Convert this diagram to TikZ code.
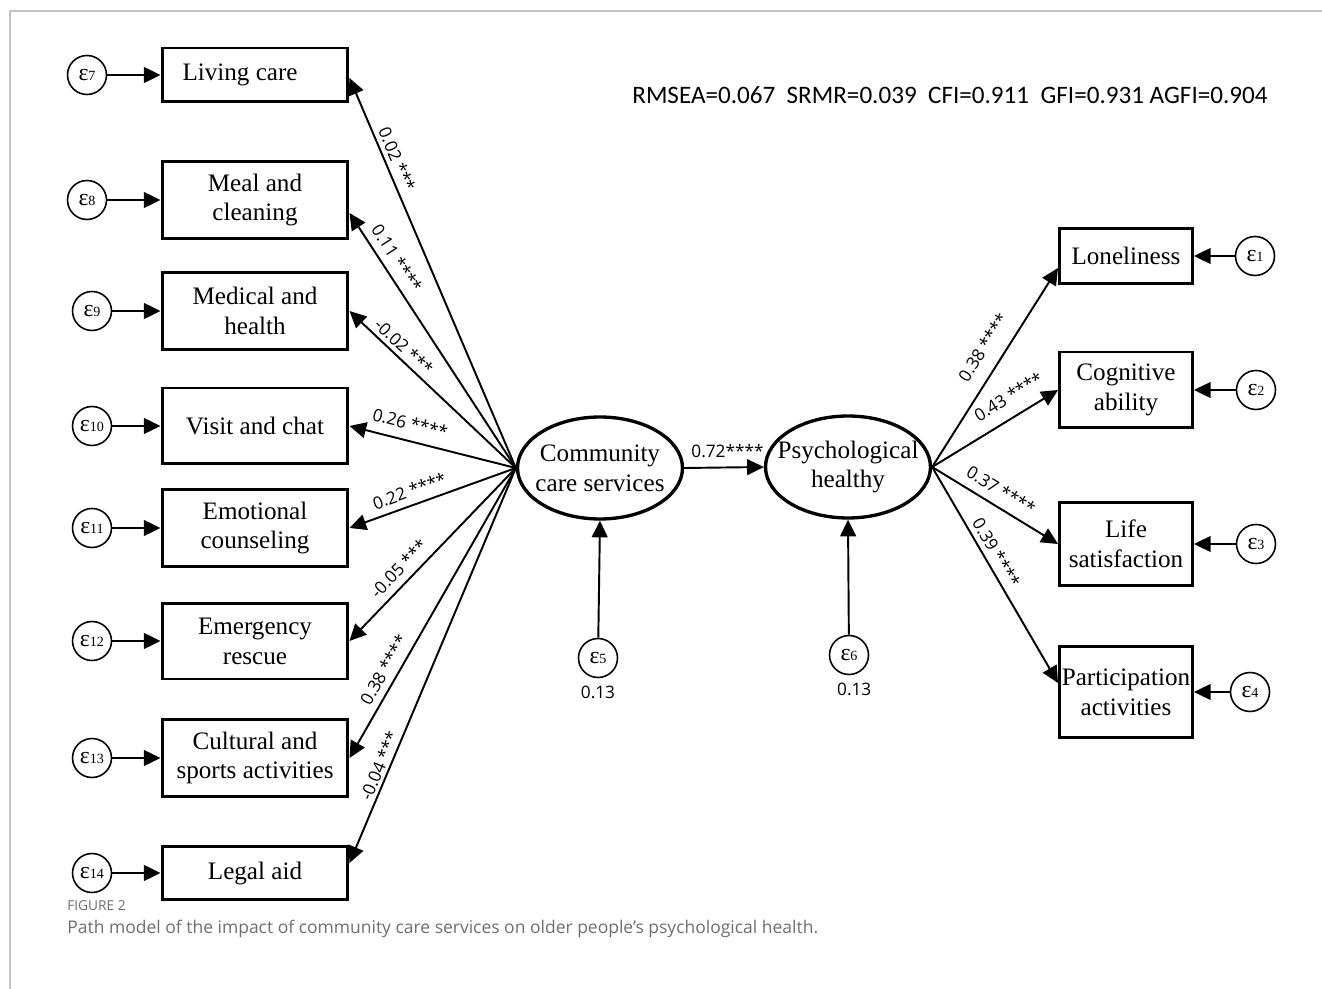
\documentclass[tikz,border=0pt]{standalone}
\usepackage{fontspec}
\setmainfont{Liberation Serif}
\newfontfamily\numfont{Carlito}
\newfontfamily\capfont{Open Sans}
\usetikzlibrary{arrows.meta,shapes.geometric,calc}
\definecolor{capgray}{RGB}{110,110,110}
\definecolor{framegray}{RGB}{195,195,195}
\newcommand{\epsx}[1]{ε{\fontsize{8}{8}\selectfont #1}}
\tikzset{
  obs/.style={draw, line width=1.7pt, minimum width=3.72cm, inner sep=0pt, align=center, font=\fontsize{14.3}{17}\selectfont},
  obsr/.style={obs, minimum width=2.66cm},
  lat/.style={draw, ellipse, line width=1.9pt, minimum width=3.3cm, minimum height=2.04cm, inner xsep=-8pt, inner ysep=0pt, align=center, font=\fontsize{14.3}{17}\selectfont},
  err/.style={draw, circle, line width=0.9pt, minimum size=0.78cm, inner sep=0pt, font=\fontsize{13.5}{14}\selectfont},
  conn/.style={line width=1.1pt, -{Triangle[length=9.5pt,width=9pt]}},
  rconn/.style={line width=1.1pt, {Triangle[length=9.5pt,width=9pt]}-},
  coef/.style={font=\capfont\fontsize{9.8}{10}\selectfont, inner sep=0pt, sloped},
  num/.style={font=\capfont\fontsize{9.8}{10}\selectfont, inner sep=0pt},
}
\begin{document}
\begin{tikzpicture}[x=0.02cm,y=-0.02cm]
\useasboundingbox (0,0) rectangle (1322,989);
\draw[framegray, line width=1.1pt] (10,989) -- (10,11) -- (1322,11);

% left observed
\node[obs, minimum height=1.08cm] (living) at (255,75) {Living care\hspace*{17pt}};
\node[obs, minimum height=1.54cm] (meal) at (255,200) {Meal and\\cleaning};
\node[obs, minimum height=1.54cm] (medical) at (255,311) {Medical and\\health};
\node[obs, minimum height=1.52cm] (visit) at (255,426) {Visit and chat};
\node[obs, minimum height=1.54cm] (emotional) at (255,528) {Emotional\\counseling};
\node[obs, minimum height=1.52cm] (emergency) at (255,641) {Emergency\\rescue};
\node[obs, minimum height=1.54cm] (cultural) at (255,758) {Cultural and\\sports activities};
\node[obs, minimum height=1.06cm] (legal) at (255,873) {Legal aid};

% left errors
\node[err] (e7) at (87,75) {\epsx{7}};
\node[err] (e8) at (87,200) {\epsx{8}};
\node[err] (e9) at (92,311) {\epsx{9}};
\node[err] (e10) at (92,426) {\epsx{10}};
\node[err] (e11) at (92,528) {\epsx{11}};
\node[err] (e12) at (92,641) {\epsx{12}};
\node[err] (e13) at (92,758) {\epsx{13}};
\node[err] (e14) at (92,873) {\epsx{14}};
\foreach \e/\b in {e7/living,e8/meal,e9/medical,e10/visit,e11/emotional,e12/emergency,e13/cultural,e14/legal}
  \draw[conn] (\e) -- (\b);

% latent
\node[lat] (ccs) at (600,468) {Community\\care services};
\node[lat] (ph) at (848,467) {Psychological\\healthy};

% right observed
\node[obsr, minimum height=1.10cm] (lon) at (1126,256) {Loneliness};
\node[obsr, minimum height=1.52cm] (cog) at (1126,390) {Cognitive\\ability};
\node[obsr, minimum height=1.68cm] (life) at (1126,544) {Life\\satisfaction};
\node[obsr, minimum height=1.84cm] (part) at (1126,692) {Participation\\activities};

% right errors
\node[err] (e1) at (1255,256) {\epsx{1}};
\node[err] (e2) at (1256,390) {\epsx{2}};
\node[err] (e3) at (1256,544) {\epsx{3}};
\node[err] (e4) at (1250,692) {\epsx{4}};
\foreach \e/\b in {e1/lon,e2/cog,e3/life,e4/part}
  \draw[conn] (\e) -- (\b);

% structural errors
\node[err] (e5) at (598,658) {\epsx{5}};
\node[err] (e6) at (849,655) {\epsx{6}};
\draw[conn] (e5) -- (ccs.south);
\draw[conn] (e6) -- (ph.south);
\node[num, anchor=north] (v5) at ([yshift=-4pt]e5.south) {0.13};
\node[num, anchor=north] (v6) at ([xshift=3pt,yshift=-4pt]e6.south) {0.13};

% loadings left
\draw[rconn] ($(living.east)+(0,3)$) -- node[coef, pos=0.22, above=2.4pt] {0.02 ***} (ccs.west);
\draw[rconn] ($(meal.east)+(0,13)$) -- node[coef, pos=0.21, above=4.2pt] {0.11 ****} (ccs.west);
\draw[rconn] (medical.east) -- node[coef, pos=0.28, above=2.2pt] {-0.02 ***} (ccs.west);
\draw[rconn] (visit.east) -- node[coef, pos=0.34, above=5.6pt] {0.26 ****} (ccs.west);
\draw[rconn] (emotional.east) -- node[coef, pos=0.39, above=3.9pt] {0.22 ****} (ccs.west);
\draw[rconn] (emergency.east) -- node[coef, pos=0.36, above=4.1pt] {-0.05 ***} (ccs.west);
\draw[rconn] (cultural.east) -- node[coef, pos=0.28, above=3.8pt] {0.38 ****} (ccs.west);
\draw[rconn] ($(legal.east)+(0,-10)$) -- node[coef, pos=0.236, above=1.6pt] {-0.04 ***} (ccs.west);

% structural path
\draw[conn] (ccs.east) -- node[num, above=5pt, xshift=2pt] {0.72****} (ph.west);

% loadings right
\draw[conn] (ph.east) -- node[coef, pos=0.545, above=7.6pt] {0.38 ****} ($(lon.west)+(0,12)$);
\draw[conn] (ph.east) -- node[coef, pos=0.69, above=7.2pt] {0.43 ****} (cog.west);
\draw[conn] (ph.east) -- node[coef, pos=0.48, above=4.9pt] {0.37 ****} (life.west);
\draw[conn] (ph.east) -- node[coef, pos=0.425, above=2.8pt] {0.39 ****} ($(part.west)+(0,-9)$);

% fit indices
\node[anchor=west, inner sep=0pt, font=\numfont\fontsize{14.3}{14.3}\selectfont] (fit) at (632,95)
  {RMSEA=0.067~~SRMR=0.039~~CFI=0.911~~GFI=0.931 AGFI=0.904};

% caption
\node[anchor=west, inner sep=0pt, text=capgray, font=\capfont\fontsize{7.8}{8}\selectfont] (figlab) at (67,906) {FIGURE 2};
\node[anchor=west, inner sep=0pt, text=capgray, font=\capfont\fontsize{9.95}{10}\selectfont] (cap) at (67,929)
  {Path model of the impact of community care services on older people’s psychological health.};
\end{tikzpicture}
\end{document}
